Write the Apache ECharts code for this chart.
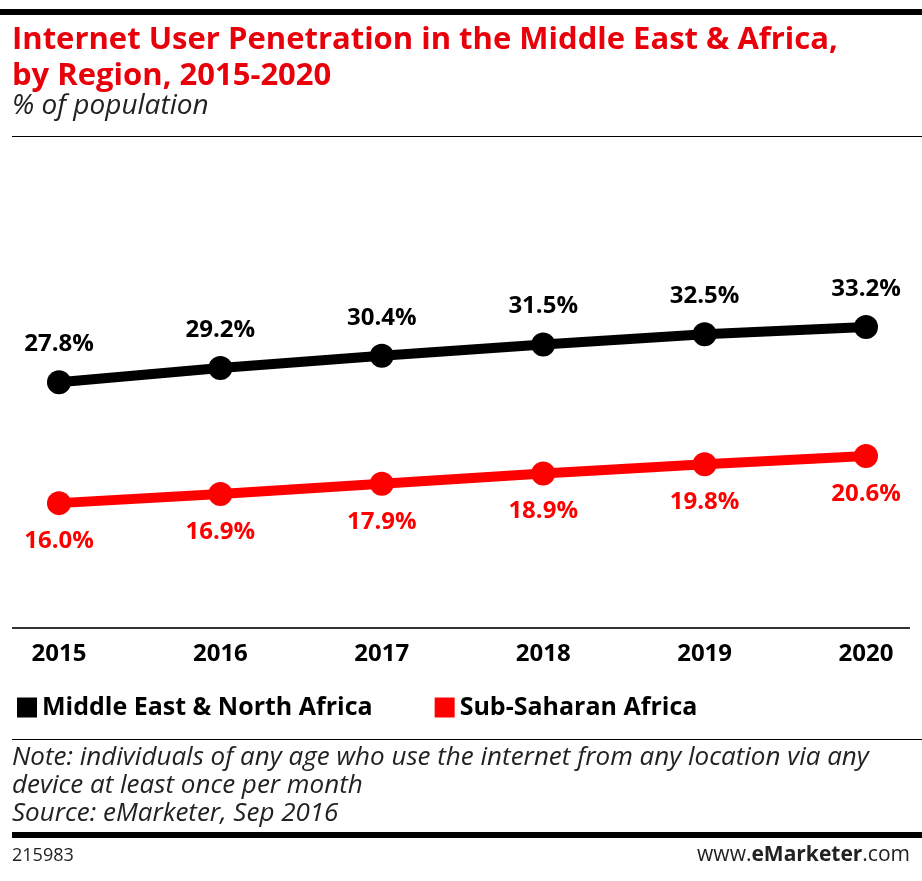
<!DOCTYPE html>
<html><head><meta charset="utf-8">
<script src="https://cdn.jsdelivr.net/npm/echarts@6/dist/echarts.min.js"></script>
<style>body{margin:0;background:#fff}#c{width:922px;height:881px}</style>
</head><body><div id="c"></div>
<script>
var years = ['2015', '2016', '2017', '2018', '2019', '2020'];
var mena = [27.8, 29.2, 30.4, 31.5, 32.5, 33.2];
var ssa = [16.0, 16.9, 17.9, 18.9, 19.8, 20.6];

var chart = echarts.init(document.getElementById('c'));
var font = 'Open Sans';
var pct = function (p) { return p.value.toFixed(1) + '%'; };
var option = {
    animation: false,
    textStyle: {fontFamily: font},
    grid: {left: 59, right: 56, top: 155, bottom: 255},
    xAxis: {
        type: 'category', data: years, boundaryGap: false,
        axisLine: {show: false}, axisTick: {show: false},
        axisLabel: {color: '#000', fontWeight: 'bold', fontSize: 24, margin: 16}
    },
    yAxis: {type: 'value', min: 4, max: 50, show: false, splitLine: {show: false}},
    legend: {
        left: 12, top: 690, itemWidth: 20, itemHeight: 20, itemGap: 62,
        icon: 'rect',
        textStyle: {fontSize: 25, fontWeight: 'bold', color: '#000'}
    },
    graphic: [
        {type: 'rect', shape: {x: 0, y: 9, width: 922, height: 6}, style: {fill: '#000'}},
        {type: 'text', left: 12, top: 22, style: {text: 'Internet User Penetration in the Middle East & Africa,\nby Region, 2015-2020', fill: '#e8000b', font: 'bold 31px "Open Sans"', lineHeight: 36}},
        {type: 'text', left: 12, top: 92, style: {text: '% of population', fill: '#222', font: 'italic 28px "Open Sans"'}},
        {type: 'rect', shape: {x: 12, y: 136, width: 910, height: 1}, style: {fill: '#000'}},
        {type: 'rect', shape: {x: 12, y: 627, width: 898, height: 2}, style: {fill: '#333'}},
        {type: 'rect', shape: {x: 12, y: 739, width: 910, height: 1}, style: {fill: '#000'}},
        {type: 'text', left: 12, top: 744, style: {text: 'Note: individuals of any age who use the internet from any location via any\ndevice at least once per month\nSource: eMarketer, Sep 2016', fill: '#222', font: 'italic 26px "Open Sans"', lineHeight: 28}},
        {type: 'rect', shape: {x: 12, y: 832, width: 910, height: 6}, style: {fill: '#000'}},
        {type: 'text', left: 12, top: 847, style: {text: '215983', fill: '#222', font: '18px "Open Sans"'}},
        {type: 'text', right: 12, top: 845, style: {text: 'www.{b|eMarketer}.com', fill: '#222', font: '21px "Open Sans"', rich: {b: {fontWeight: 'bold', fontSize: 21, fontFamily: font, fill: '#222'}}}}
    ],
    series: [
        {
            name: 'Middle East & North Africa', type: 'line', data: mena,
            color: '#000', symbol: 'circle', symbolSize: 24,
            lineStyle: {width: 10, color: '#000'},
            label: {show: true, position: 'top', distance: 14, color: '#000', fontWeight: 'bold', fontSize: 24, formatter: pct}
        },
        {
            name: 'Sub-Saharan Africa', type: 'line', data: ssa,
            color: '#ff0000', symbol: 'circle', symbolSize: 24,
            lineStyle: {width: 10, color: '#ff0000'},
            label: {show: true, position: 'bottom', distance: 14, color: '#ff0000', fontWeight: 'bold', fontSize: 24, formatter: pct}
        }
    ]
};
chart.setOption(option);
</script></body></html>
